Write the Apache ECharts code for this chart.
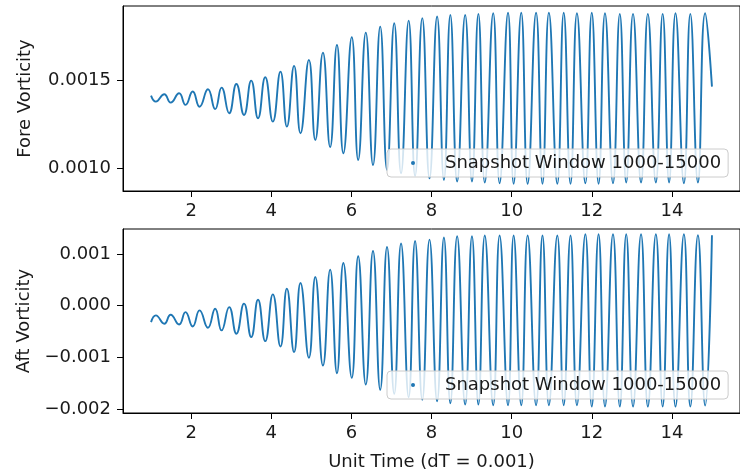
<!DOCTYPE html>
<html><head><meta charset="utf-8">
<script src="https://cdn.jsdelivr.net/npm/echarts@6/dist/echarts.min.js"></script>
<style>html,body{margin:0;padding:0;background:#fff;}#c{width:740px;height:473px;}</style>
</head><body><div id="c"></div>
<script>
const seriesName = 'Snapshot Window 1000-15000';
// times of the extrema (alternating), start and end points
const times = [1.00, 1.12, 1.33, 1.49, 1.70, 1.86, 2.04, 2.21, 2.42, 2.60,
  2.76, 2.95, 3.13, 3.32, 3.50, 3.67, 3.85, 4.04, 4.23, 4.39,
  4.57, 4.73, 4.94, 5.10, 5.29, 5.47, 5.64, 5.80, 6.01, 6.17,
  6.36, 6.54, 6.72, 6.89, 7.07, 7.24, 7.43, 7.59, 7.77, 7.95,
  8.14, 8.31, 8.47, 8.64, 8.84, 9.01, 9.17, 9.33, 9.54, 9.70,
  9.91, 10.05, 10.24, 10.40, 10.61, 10.77, 10.93, 11.14, 11.30, 11.47,
  11.63, 11.84, 12.00, 12.17, 12.33, 12.53, 12.70, 12.86, 13.03, 13.23,
  13.40, 13.60, 13.77, 13.93, 14.09, 14.30, 14.46, 14.65, 14.83, 15.00];
const foreVorticity = [0.001415, 0.001381, 0.001423, 0.001375, 0.001428, 0.001362, 0.001438, 0.001352, 0.001451, 0.001338,
  0.001460, 0.001315, 0.001481, 0.001305, 0.001500, 0.001286, 0.001519, 0.001267, 0.001551, 0.001239,
  0.001584, 0.001201, 0.001618, 0.001163, 0.001659, 0.001122, 0.001703, 0.001087, 0.001747, 0.001049,
  0.001773, 0.001021, 0.001807, 0.000993, 0.001826, 0.000974, 0.001841, 0.000959, 0.001855, 0.000945,
  0.001864, 0.000936, 0.001873, 0.000927, 0.001873, 0.000927, 0.001879, 0.000921, 0.001883, 0.000917,
  0.001886, 0.000914, 0.001886, 0.000914, 0.001886, 0.000914, 0.001886, 0.000914, 0.001886, 0.000914,
  0.001883, 0.000917, 0.001886, 0.000914, 0.001883, 0.000917, 0.001879, 0.000921, 0.001879, 0.000921,
  0.001879, 0.000921, 0.001879, 0.000921, 0.001883, 0.000917, 0.001879, 0.000921, 0.001883, 0.001466];
const aftVorticity = [-0.000318, -0.000188, -0.000349, -0.000175, -0.000363, -0.000124, -0.000402, -0.000091, -0.000427, -0.000058,
  -0.000479, -0.000027, -0.000543, 0.000039, -0.000609, 0.000116, -0.000687, 0.000219, -0.000790, 0.000330,
  -0.000900, 0.000438, -0.001009, 0.000555, -0.001158, 0.000698, -0.001307, 0.000826, -0.001397, 0.000956,
  -0.001527, 0.001059, -0.001629, 0.001137, -0.001707, 0.001203, -0.001773, 0.001253, -0.001823, 0.001280,
  -0.001850, 0.001319, -0.001889, 0.001344, -0.001914, 0.001344, -0.001914, 0.001358, -0.001928, 0.001358,
  -0.001928, 0.001358, -0.001928, 0.001358, -0.001928, 0.001358, -0.001928, 0.001358, -0.001928, 0.001358,
  -0.001928, 0.001383, -0.001953, 0.001383, -0.001953, 0.001383, -0.001953, 0.001383, -0.001953, 0.001383,
  -0.001953, 0.001383, -0.001953, 0.001383, -0.001953, 0.001383, -0.001953, 0.001364, -0.001934, 0.001364];
const xTicks = [2, 4, 6, 8, 10, 12, 14];
const xTickLabels = ['2', '4', '6', '8', '10', '12', '14'];
const foreTicks = [0.0010, 0.0015];
const foreTickLabels = ['0.0010', '0.0015'];
const aftTicks = [-0.002, -0.001, 0, 0.001];
const aftTickLabels = ['\u22120.002', '\u22120.001', '0.000', '0.001'];

const FONT = 'DejaVu Sans';
const TXT = '#1a1a1a';
const BLUE = '#1f77b4';
function labeler(ticks, labels) {
  return function (v) {
    for (let i = 0; i < ticks.length; i++) if (Math.abs(v - ticks[i]) < 1e-9) return labels[i];
    return '';
  };
}
function xAxisCfg(gridIndex, name) {
  return {
    type: 'value', gridIndex: gridIndex, min: 0.3, max: 15.7,
    name: name, nameLocation: 'middle', nameGap: 40,
    nameTextStyle: { fontFamily: FONT, fontSize: 18, color: TXT },
    axisLine: { show: true, onZero: false, lineStyle: { color: '#000', width: 1 } },
    axisTick: { show: true, length: 6, inside: false, customValues: xTicks, lineStyle: { color: '#000', width: 1 } },
    axisLabel: { show: true, margin: 11, customValues: xTicks, formatter: labeler(xTicks, xTickLabels),
      fontFamily: FONT, fontSize: 18, color: TXT },
    splitLine: { show: false }
  };
}
function yAxisCfg(gridIndex, name, min, max, ticks, labels) {
  return {
    type: 'value', gridIndex: gridIndex, min: min, max: max,
    name: name, nameLocation: 'middle', nameGap: 89, nameRotate: 90,
    nameTextStyle: { fontFamily: FONT, fontSize: 18, color: TXT },
    axisLine: { show: true, onZero: false, lineStyle: { color: '#000', width: 1 } },
    axisTick: { show: true, length: 6, inside: false, customValues: ticks, lineStyle: { color: '#000', width: 1 } },
    axisLabel: { show: true, margin: 12, customValues: ticks, formatter: labeler(ticks, labels),
      fontFamily: FONT, fontSize: 18, color: TXT },
    splitLine: { show: false }
  };
}
function legendCfg(top) {
  return {
    left: 387, top: top, orient: 'horizontal',
    data: [seriesName], icon: 'circle', itemWidth: 4, itemHeight: 4,
    padding: [5, 7, 5, 24],
    backgroundColor: 'rgba(255,255,255,0.8)', borderColor: '#cccccc', borderWidth: 1, borderRadius: 4,
    textStyle: { fontFamily: FONT, fontSize: 18, color: TXT, padding: [0, 0, 0, 25] }
  };
}
const foreData = times.map((t, i) => [t, foreVorticity[i]]);
const aftData = times.map((t, i) => [t, aftVorticity[i]]);

const chart = echarts.init(document.getElementById('c'), null, { renderer: 'canvas' });
chart.setOption({
  animation: false,
  backgroundColor: '#ffffff',
  grid: [
    { left: 123, top: 6, right: -9, height: 185, show: true, borderColor: '#000', borderWidth: 1, backgroundColor: 'transparent' },
    { left: 123, top: 229, right: -9, height: 184, show: true, borderColor: '#000', borderWidth: 1, backgroundColor: 'transparent' }
  ],
  xAxis: [xAxisCfg(0, ''), xAxisCfg(1, 'Unit Time (dT = 0.001)')],
  yAxis: [
    yAxisCfg(0, 'Fore Vorticity', 0.000873, 0.001924, foreTicks, foreTickLabels),
    yAxisCfg(1, 'Aft Vorticity', -0.002078, 0.001485, aftTicks, aftTickLabels)
  ],
  legend: [legendCfg(149), legendCfg(371)],
  series: [
    { name: seriesName, type: 'line', xAxisIndex: 0, yAxisIndex: 0, data: foreData, smooth: 0.5,
      symbol: 'none', showSymbol: false, itemStyle: { color: BLUE }, lineStyle: { color: BLUE, width: 1.9 }, z: 2 },
    { name: seriesName, type: 'line', xAxisIndex: 1, yAxisIndex: 1, data: aftData, smooth: 0.5,
      symbol: 'none', showSymbol: false, itemStyle: { color: BLUE }, lineStyle: { color: BLUE, width: 1.9 }, z: 2 }
  ]
});
</script>
</body></html>
